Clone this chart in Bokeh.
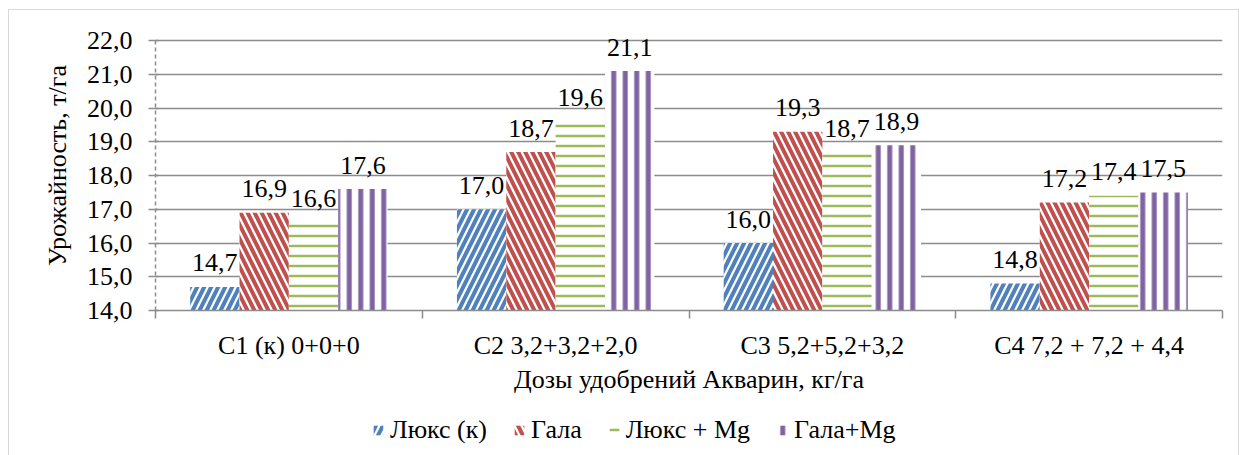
from bokeh.plotting import figure
from bokeh.layouts import column
from bokeh.models import FixedTicker, Legend, LegendItem, ColumnDataSource
from bokeh.embed import file_html
from bokeh.resources import INLINE

categories = ["С1 (к) 0+0+0", "С2 3,2+3,2+2,0", "С3 5,2+5,2+3,2", "С4 7,2 + 7,2 + 4,4"]
series_names = ["Люкс (к)", "Гала", "Люкс + Mg", "Гала+Mg"]
lux_k = [14.7, 17.0, 16.0, 14.8]
gala = [16.9, 18.7, 19.3, 17.2]
lux_mg = [16.6, 19.6, 18.7, 17.4]
gala_mg = [17.6, 21.1, 18.9, 17.5]
y_ticks = [14, 15, 16, 17, 18, 19, 20, 21, 22]

series = [lux_k, gala, lux_mg, gala_mg]
colors = ["#4F81BD", "#C0504D", "#9BBB59", "#8064A2"]
hatches = ["/", "\\", "-", "|"]
hscale = [14, 14, 10, 11.5]
hweight = [4, 4, 2.5, 5]

FONT = "Liberation Serif"
FS = "26px"
W = 1229

p = figure(width=W, height=392, output_backend="svg", toolbar_location=None,
           x_range=(0, 4), y_range=(14, 22.6),
           min_border_left=146, min_border_right=16, min_border_top=10,
           min_border_bottom=92)
p.outline_line_color = None
p.xgrid.visible = False
p.ygrid.grid_line_color = "#8c8c8c"
p.ygrid.grid_line_width = 1.5
p.ygrid.ticker = FixedTicker(ticks=y_ticks)

leg_fig = figure(width=W, height=53, output_backend="svg", toolbar_location=None,
                 x_range=(0, 1), y_range=(0, 1), min_border=0,
                 x_axis_location=None, y_axis_location=None)
leg_fig.outline_line_color = None
leg_fig.grid.visible = False

bw = 0.185
items = []
for j, (vals, name) in enumerate(zip(series, series_names)):
    xs = [i + 0.5 + (j - 1.5) * bw for i in range(len(categories))]
    src = ColumnDataSource(dict(x=xs, top=vals, lab=[f"{v:.1f}".replace(".", ",") for v in vals]))
    style = dict(fill_color="white", line_color=None,
                 hatch_pattern=hatches[j], hatch_color=colors[j],
                 hatch_scale=hscale[j], hatch_weight=hweight[j])
    p.vbar(x="x", top="top", bottom=14, width=bw, source=src, **style)
    p.text(x="x", y="top", text="lab", source=src, text_align="center",
           text_baseline="alphabetic", y_offset=-24,
           text_font={"value": FONT}, text_font_size=FS, text_color="black")
    # zero-height proxy bar, only used to draw the legend swatch
    lr = leg_fig.vbar(x=[-10], top=[0], bottom=0, width=0.1, **style)
    items.append(LegendItem(label=name, renderers=[lr]))

# x axis
p.xaxis.ticker = FixedTicker(ticks=[0.5, 1.5, 2.5, 3.5], minor_ticks=[0, 1, 2, 3, 4])
p.xaxis.major_label_overrides = {i + 0.5: c for i, c in enumerate(categories)}
p.xaxis.major_tick_out = 0
p.xaxis.major_tick_in = 0
p.xaxis.minor_tick_out = 8
p.xaxis.minor_tick_in = 0
p.xaxis.minor_tick_line_color = "#8c8c8c"
p.xaxis.minor_tick_line_width = 1.5
p.xaxis.axis_line_color = "#8c8c8c"
p.xaxis.axis_line_width = 1.5
p.xaxis.major_label_standoff = 12
p.xaxis.axis_label = "Дозы удобрений Акварин, кг/га"
p.xaxis.axis_label_standoff = 2

# y axis
p.yaxis.ticker = FixedTicker(ticks=y_ticks)
p.yaxis.bounds = (14, 22)
p.yaxis.major_label_overrides = {t: f"{t:.1f}".replace(".", ",") for t in y_ticks}
p.yaxis.minor_tick_line_color = None
p.yaxis.major_tick_out = 7
p.yaxis.major_tick_in = 3
p.yaxis.major_tick_line_color = "#8c8c8c"
p.yaxis.major_tick_line_width = 1.5
p.yaxis.axis_line_color = "#8c8c8c"
p.yaxis.axis_line_width = 1.5
p.yaxis.axis_line_dash = "4 3"
p.yaxis.major_label_standoff = 16
p.yaxis.axis_label = "Урожайность, т/га"
p.yaxis.axis_label_standoff = 12

for ax in (p.xaxis[0], p.yaxis[0]):
    ax.major_label_text_font = FONT
    ax.major_label_text_font_size = FS
    ax.major_label_text_color = "black"
    ax.axis_label_text_font = FONT
    ax.axis_label_text_font_size = FS
    ax.axis_label_text_font_style = "normal"
    ax.axis_label_text_color = "black"

# the column aligns this figure's frame with the chart frame (left edge at the y axis)
legend = Legend(items=items, orientation="horizontal", location=(217, 10),
                label_text_font=FONT, label_text_font_size=FS, label_text_color="black",
                glyph_width=12, glyph_height=12, label_standoff=6, spacing=26,
                padding=0, margin=0, border_line_color=None,
                background_fill_alpha=0)
leg_fig.add_layout(legend)

layout = column(p, leg_fig, spacing=0,
                styles={"border": "1px solid #d9d9d9", "margin": "9px 0 0 8px"})

open("out.html", "w").write(file_html(layout, INLINE))
